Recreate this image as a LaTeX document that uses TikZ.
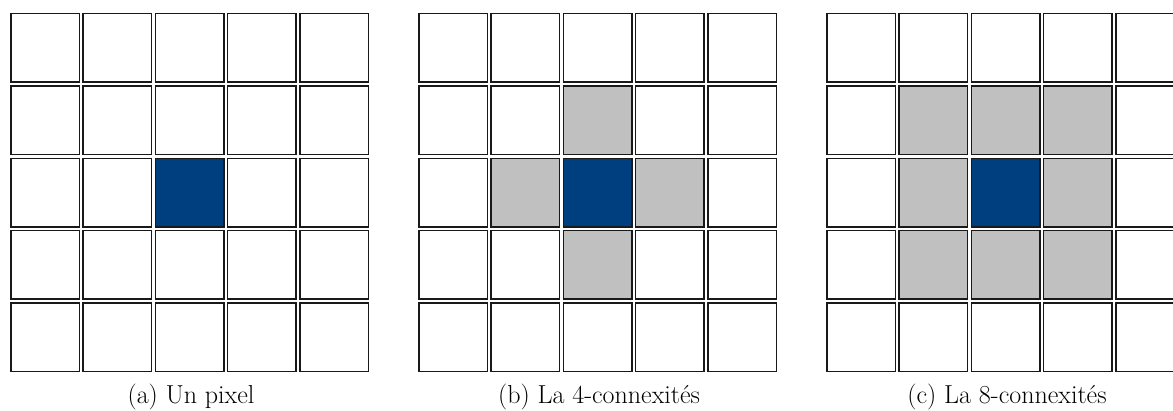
\documentclass[tikz,border=0pt]{standalone}
\usepackage{xcolor}
\definecolor{pixblue}{RGB}{0,63,127}
\definecolor{neigh}{RGB}{192,192,192}
\begin{document}
\begin{tikzpicture}[x=1pt,y=1pt,
  cell/.style={draw=black!90,line width=1.5pt,fill=white,minimum size=68.5pt,inner sep=0pt,outer sep=0pt},
  pixcell/.style={cell,fill=pixblue},
  nbcell/.style={cell,fill=neigh},
  captext/.style={font=\fontsize{26}{30}\selectfont,anchor=base,inner sep=0pt}]
\clip (0,0) rectangle (1173,410);
\useasboundingbox (0,0) rectangle (1173,410);
\foreach \g/\xo in {a/10,b/418,c/826}{
  \foreach \i in {0,...,4}{
    \foreach \j in {0,...,4}{
      \pgfmathsetmacro{\cx}{\xo+\i*72.3+35}
      \pgfmathsetmacro{\cy}{410-(13+\j*72.3+35)}
      \node[cell] (\g-\i-\j) at (\cx,\cy) {};
    }
  }
}
% (a)
\node[pixcell] (a-c) at (a-2-2) {};
% (b)
\foreach \p in {1-2,3-2,2-1,2-3}{\node[nbcell] (b-n-\p) at (b-\p) {};}
\node[pixcell] (b-c) at (b-2-2) {};
% (c)
\foreach \p in {1-1,2-1,3-1,1-2,3-2,1-3,2-3,3-3}{\node[nbcell] (c-n-\p) at (c-\p) {};}
\node[pixcell] (c-c) at (c-2-2) {};
% captions
\node[captext] (capa) at (191,6.5) {(a) Un pixel};
\node[captext] (capb) at (599,6.5) {(b) La 4-connexités};
\node[captext] (capc) at (1007,6.5) {(c) La 8-connexités};
\end{tikzpicture}
\end{document}
